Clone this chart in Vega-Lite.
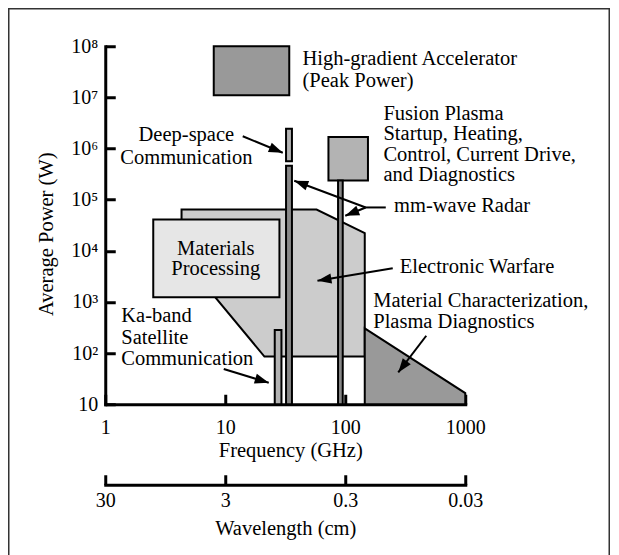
{
  "$schema": "https://vega.github.io/schema/vega-lite/v6.json",
  "width": 360,
  "height": 358,
  "padding": {"left": 7.25, "top": 7.25, "right": 5, "bottom": 5},
  "background": "white",
  "config": {
    "view": {"stroke": null},
    "font": "Liberation Serif",
    "axis": {
      "grid": false,
      "domainColor": "black",
      "domainWidth": 3,
      "domainCap": "square",
      "tickColor": "black",
      "tickWidth": 3,
      "tickSize": -10,
      "labelFont": "Liberation Serif",
      "labelFontSize": 20,
      "labelColor": "black",
      "labelFlush": false,
      "labelOverlap": false,
      "titleFont": "Liberation Serif",
      "titleFontSize": 20.5,
      "titleFontWeight": "normal",
      "titleColor": "black"
    }
  },
  "datasets": {
    "regions": [
      {"region": "Electronic Warfare", "f": 4.323, "top": 64120, "bottom": 7656},
      {"region": "Electronic Warfare", "f": 21.21, "top": 64120, "bottom": 85.65},
      {"region": "Electronic Warfare", "f": 57.67, "top": 64120, "bottom": 85.65},
      {"region": "Electronic Warfare", "f": 145.4, "top": 22260, "bottom": 85.65},
      {"region": "Material Characterization", "f": 145.4, "top": 303.4, "bottom": 10},
      {"region": "Material Characterization", "f": 1000, "top": 16.48, "bottom": 10}
    ],
    "boxes": [
      {"region": "Materials Processing", "f1": 2.512, "f2": 28.29, "p1": 40880, "p2": 1231},
      {"region": "High-gradient Accelerator", "f1": 8.02, "f2": 34.15, "p1": 100000000, "p2": 11010000},
      {"region": "Fusion Plasma", "f1": 72.44, "f2": 154.6, "p1": 1677000, "p2": 236600},
      {"region": "Deep-space Communication", "f1": 32.11, "f2": 35.96, "p1": 2437000, "p2": 564100},
      {"region": "mm-wave Radar", "f1": 32.11, "f2": 35.96, "p1": 460600, "p2": 10},
      {"region": "mm-wave Radar", "f1": 87.1, "f2": 95.3, "p1": 236600, "p2": 10},
      {"region": "Ka-band Satellite Communication", "f1": 25.85, "f2": 29.4, "p1": 282.4, "p2": 10}
    ],
    "arrows": [
      {"to": "Deep-space Communication", "f": 13.99, "p": 1739000, "f2": 30.15, "p2": 827200, "angle": 22.4},
      {"to": "mm-wave Radar", "f": 148.2, "p": 70470, "f2": 37.58, "p2": 234500, "angle": 200.5},
      {"to": "mm-wave Radar", "f": 148.2, "p": 70470, "f2": 100, "p2": 48510, "angle": 158},
      {"to": "mm-wave Radar", "f": 148.2, "p": 70470, "f2": 217.6, "p2": 70470},
      {"to": "Electronic Warfare", "f": 248.8, "p": 4562, "f2": 58.67, "p2": 2598, "angle": 170.6},
      {"to": "Ka-band Satellite Communication", "f": 9.716, "p": 49, "f2": 23.04, "p2": 26.33, "angle": 17.05},
      {"to": "Material Characterization", "f": 473.2, "p": 218.5, "f2": 276.5, "p2": 41.86, "angle": 127.3}
    ],
    "notesLeft": [
      {"label": "High-gradient Accelerator", "f": 44.0, "p": 42500000},
      {"label": "(Peak Power)", "f": 44.0, "p": 16150000},
      {"label": "Fusion Plasma", "f": 208.1, "p": 3654000},
      {"label": "Startup, Heating,", "f": 208.1, "p": 1452000},
      {"label": "Control, Current Drive,", "f": 208.1, "p": 577000},
      {"label": "and Diagnostics", "f": 208.1, "p": 229300},
      {"label": "mm-wave Radar", "f": 255.1, "p": 58070},
      {"label": "Electronic Warfare", "f": 284.6, "p": 3676},
      {"label": "Material Characterization,", "f": 171.1, "p": 784.7},
      {"label": "Plasma Diagnostics", "f": 171.1, "p": 309},
      {"label": "Ka-band", "f": 1.359, "p": 401.3},
      {"label": "Satellite", "f": 1.359, "p": 153.8},
      {"label": "Communication", "f": 1.359, "p": 59.2}
    ],
    "notesCenter": [
      {"label": "Deep-space", "f": 4.741, "p": 1420000},
      {"label": "Communication", "f": 4.741, "p": 492800},
      {"label": "Materials", "f": 8.333, "p": 8379},
      {"label": "Processing", "f": 8.333, "p": 3359}
    ],
    "wavelengths": [{"wl": 30}, {"wl": 3}, {"wl": 0.3}, {"wl": 0.03}]
  },
  "layer": [
    {
      "layer": [
        {
          "data": {"values": [{}]},
          "mark": {"type": "rect", "fill": null, "stroke": "#333333", "strokeWidth": 1.5},
          "encoding": {
            "x": {
              "datum": 0.157, "type": "quantitative",
              "scale": {"type": "log", "domain": [1, 1000], "nice": false},
              "axis": {"title": "Frequency (GHz)", "values": [1, 10, 100, 1000], "format": "d", "labelPadding": 23, "titlePadding": 3, "titleX": 185}
            },
            "x2": {"datum": 15849},
            "y": {
              "datum": 541000000, "type": "quantitative",
              "scale": {"type": "log", "domain": [10, 100000000], "nice": false},
              "axis": {
                "title": "Average Power (W)",
                "values": [10, 100, 1000, 10000, 100000, 1000000, 10000000, 100000000],
                "labelExpr": "datum.value == 10 ? '10' : datum.value == 100 ? '10²' : datum.value == 1000 ? '10³' : datum.value == 10000 ? '10⁴' : datum.value == 100000 ? '10⁵' : datum.value == 1000000 ? '10⁶' : datum.value == 10000000 ? '10⁷' : '10⁸'",
                "labelPadding": 17.5,
                "titlePadding": 14,
                "titleY": 187.5
              }
            },
            "y2": {"datum": 0.000585}
          }
        },
        {
          "data": {"name": "regions"},
          "mark": {"type": "area", "stroke": "black", "strokeWidth": 2, "opacity": 1, "strokeJoin": "miter"},
          "encoding": {
            "x": {"field": "f", "type": "quantitative", "scale": {"type": "log", "domain": [1, 1000], "nice": false}},
            "y": {"field": "top", "type": "quantitative", "stack": null, "scale": {"type": "log", "domain": [10, 100000000], "nice": false}},
            "y2": {"field": "bottom"},
            "color": {
              "field": "region", "type": "nominal", "legend": null,
              "scale": {
                "domain": ["Electronic Warfare", "Material Characterization", "Materials Processing", "High-gradient Accelerator", "Fusion Plasma", "Deep-space Communication", "Ka-band Satellite Communication", "mm-wave Radar"],
                "range": ["#cccccc", "#999999", "#e6e6e6", "#999999", "#b3b3b3", "#b3b3b3", "#b3b3b3", "#888888"]
              }
            }
          }
        },
        {
          "data": {"name": "boxes"},
          "mark": {"type": "rect", "stroke": "black", "strokeWidth": 2, "opacity": 1},
          "encoding": {
            "x": {"field": "f1", "type": "quantitative", "scale": {"type": "log", "domain": [1, 1000], "nice": false}},
            "x2": {"field": "f2"},
            "y": {"field": "p1", "type": "quantitative", "scale": {"type": "log", "domain": [10, 100000000], "nice": false}},
            "y2": {"field": "p2"},
            "color": {
              "field": "region", "type": "nominal", "legend": null,
              "scale": {
                "domain": ["Electronic Warfare", "Material Characterization", "Materials Processing", "High-gradient Accelerator", "Fusion Plasma", "Deep-space Communication", "Ka-band Satellite Communication", "mm-wave Radar"],
                "range": ["#cccccc", "#999999", "#e6e6e6", "#999999", "#b3b3b3", "#b3b3b3", "#b3b3b3", "#888888"]
              }
            }
          }
        },
        {
          "data": {"name": "arrows"},
          "mark": {"type": "rule", "color": "black", "strokeWidth": 2},
          "encoding": {
            "x": {"field": "f", "type": "quantitative", "scale": {"type": "log", "domain": [1, 1000], "nice": false}},
            "x2": {"field": "f2"},
            "y": {"field": "p", "type": "quantitative", "scale": {"type": "log", "domain": [10, 100000000], "nice": false}},
            "y2": {"field": "p2"}
          }
        },
        {
          "data": {"name": "arrows"},
          "transform": [{"filter": "isValid(datum.angle)"}],
          "mark": {"type": "point", "shape": "M0,0L-2,-0.72L-2,0.72Z", "filled": true, "color": "black", "size": 196, "opacity": 1, "strokeWidth": 0},
          "encoding": {
            "x": {"field": "f2", "type": "quantitative", "scale": {"type": "log", "domain": [1, 1000], "nice": false}},
            "y": {"field": "p2", "type": "quantitative", "scale": {"type": "log", "domain": [10, 100000000], "nice": false}},
            "angle": {"field": "angle", "type": "quantitative", "scale": null}
          }
        },
        {
          "data": {"name": "notesLeft"},
          "mark": {"type": "text", "align": "left", "baseline": "alphabetic", "font": "Liberation Serif", "fontSize": 20.5, "color": "black"},
          "encoding": {
            "x": {"field": "f", "type": "quantitative", "scale": {"type": "log", "domain": [1, 1000], "nice": false}},
            "y": {"field": "p", "type": "quantitative", "scale": {"type": "log", "domain": [10, 100000000], "nice": false}},
            "text": {"field": "label"}
          }
        },
        {
          "data": {"name": "notesCenter"},
          "mark": {"type": "text", "align": "center", "baseline": "alphabetic", "font": "Liberation Serif", "fontSize": 20.5, "color": "black"},
          "encoding": {
            "x": {"field": "f", "type": "quantitative", "scale": {"type": "log", "domain": [1, 1000], "nice": false}},
            "y": {"field": "p", "type": "quantitative", "scale": {"type": "log", "domain": [10, 100000000], "nice": false}},
            "text": {"field": "label"}
          }
        }
      ]
    },
    {
      "data": {"name": "wavelengths"},
      "mark": {"type": "point", "opacity": 0},
      "encoding": {
        "x": {
          "field": "wl", "type": "quantitative",
          "scale": {"type": "log", "domain": [0.03, 30], "reverse": true, "nice": false},
          "axis": {"orient": "bottom", "offset": 80.5, "title": "Wavelength (cm)", "values": [30, 3, 0.3, 0.03], "format": "~g", "labelPadding": 16.2, "titlePadding": 7.5}
        }
      }
    }
  ],
  "resolve": {"scale": {"x": "independent"}}
}
